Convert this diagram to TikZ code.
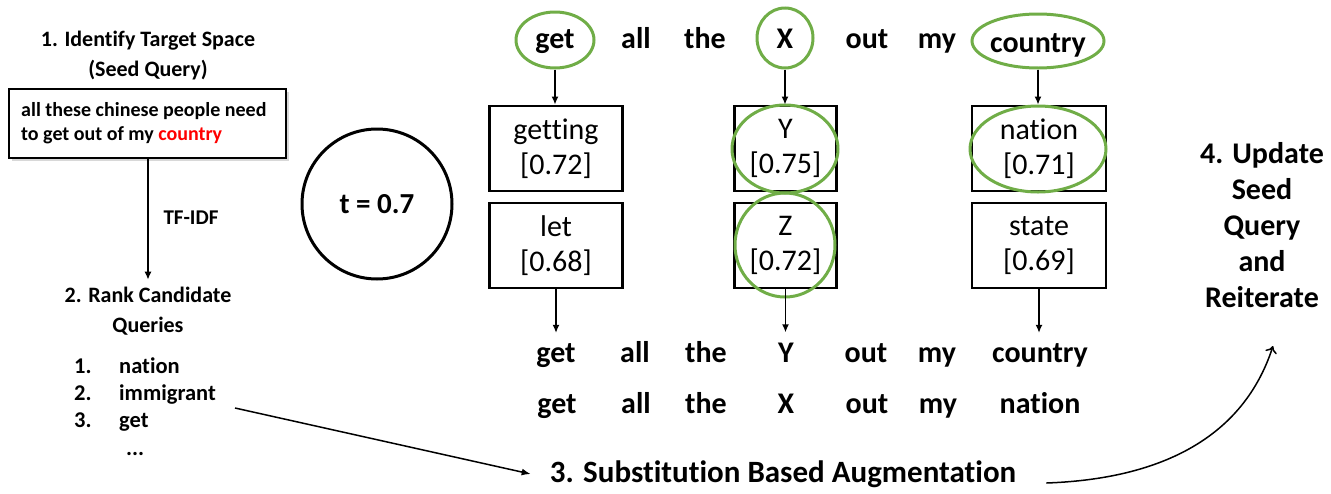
\documentclass[tikz,border=0pt]{standalone}
\usepackage{fontspec}
\setmainfont[Ligatures=NoCommon]{Carlito}
\usetikzlibrary{arrows.meta,shapes.geometric,shadows}
\definecolor{grn}{RGB}{112,173,71}
\definecolor{redtxt}{RGB}{255,0,0}
\tikzset{
  ttl/.style={font=\fontsize{22}{30}\selectfont\bfseries, align=center, inner sep=0},
  wrd/.style={font=\fontsize{30}{34}\selectfont\bfseries, inner sep=0, anchor=base},
  cand/.style={draw, line width=2.8, minimum width=133, minimum height=85, align=center, font=\fontsize{30}{35}\selectfont, inner sep=0},
  gell/.style={ellipse, draw=grn, line width=3, inner sep=0},
  arr/.style={line width=1.5, -{Latex[length=8,width=7]}},
  lst/.style={font=\fontsize{22.5}{26}\selectfont\bfseries, inner sep=0, anchor=base west},
}
\begin{document}
\begin{tikzpicture}[x=1pt,y=-1pt]
\useasboundingbox (0,0) rectangle (1331,493);
% left column
\node[ttl] (t1) at (148,56) {1. Identify Target Space\\(Seed Query)};
\node[draw, line width=1.2, minimum width=277, minimum height=69, inner sep=0, fill=white,
  drop shadow={shadow xshift=3pt, shadow yshift=-3pt, fill=gray!60}] (seed) at (147.5,123.5) {};
\node[font=\fontsize{20}{24}\selectfont\bfseries, align=left, anchor=west, inner sep=0] (seedtxt) at (21,123) {all these chinese people need\\to get out of my \textcolor{redtxt}{country}};
\node[ttl] (t2) at (148,311) {2. Rank Candidate\\Queries};
\draw[arr] (seed.south -| t2.north) -- ([yshift=7]t2.north);
\node[font=\fontsize{21}{24}\selectfont\bfseries, inner sep=0] (tfidf) at (191,218) {TF-IDF};
\node[lst] (n1) at (74,373) {1.};
\node[lst] (n2) at (74,400) {2.};
\node[lst] (n3) at (74,427) {3.};
\node[lst] (c1) at (119,373) {nation};
\node[lst] (c2) at (119,400) {immigrant};
\node[lst] (c3) at (119,427) {get};
\node[lst] (c4) at (126,455) {...};
% threshold
\node[circle, draw, line width=3, minimum size=150, font=\fontsize{29}{34}\selectfont\bfseries] (thr) at (377,204) {t = 0.7};
% top row
\node[wrd] (w1) at (555,48) {get};
\node[gell, minimum width=78, minimum height=56] (e1) at (555,40) {};
\node[wrd] (w2) at (636,48) {all};
\node[wrd] (w3) at (705,48) {the};
\node[wrd] (w4) at (785,48) {X};
\node[gell, minimum width=56, minimum height=60] (e4) at (785,38) {};
\node[wrd] (w5) at (867,48) {out};
\node[wrd] (w6) at (937,48) {my};
\node[wrd] (w7) at (1038,52) {country};
\node[gell, minimum width=132, minimum height=54] (e7) at (1038,41) {};
% candidate boxes
\node[cand] (b1) at (556,148.5) {getting\\{[0.72]}};
\node[cand, minimum width=102] (b2) at (785.5,148.5) {Y\\{[0.75]}};
\node[cand, minimum width=134] (b3) at (1039,148.5) {nation\\{[0.71]}};
\node[cand] (b4) at (556,245.5) {let\\{[0.68]}};
\node[cand, minimum width=102] (b5) at (785.5,245.5) {Z\\{[0.72]}};
\node[cand, minimum width=134] (b6) at (1039,245.5) {state\\{[0.69]}};
\node[gell, minimum width=106, minimum height=88] (g2) at (785,149) {};
\node[gell, minimum width=136, minimum height=86] (g3) at (1038,149) {};
\node[gell, minimum width=100, minimum height=104] (g5) at (785,245) {};
\draw[arr] (e1.south) -- (e1.south |- b1.north);
\draw[arr] (e4.south) -- (e4.south |- b2.north);
\draw[arr] (e7.south) -- (e7.south |- b3.north);
% result rows
\node[wrd] (r1) at (556,362) {get};
\node[wrd] (r2) at (635,362) {all};
\node[wrd] (r3) at (706,362) {the};
\node[wrd] (r4) at (786,362) {Y};
\node[wrd] (r5) at (866,362) {out};
\node[wrd] (r6) at (937,362) {my};
\node[wrd] (r7) at (1040,362) {country};
\node[wrd] (s1) at (557,413) {get};
\node[wrd] (s2) at (636,413) {all};
\node[wrd] (s3) at (706,413) {the};
\node[wrd] (s4) at (786,413) {X};
\node[wrd] (s5) at (867,413) {out};
\node[wrd] (s6) at (938,413) {my};
\node[wrd] (s7) at (1040,413) {nation};
\draw[arr] (b4.south) -- ([yshift=10]b4.south |- r1.north);
\draw[arr] (b5.south) -- ([yshift=10]b5.south |- r4.north);
\draw[arr] (b6.south) -- ([yshift=10]b6.south |- r7.north);
% augmentation
\node[font=\fontsize{31}{36}\selectfont\bfseries, inner sep=0] (aug) at (783,474) {3. Substitution Based Augmentation};
\draw[line width=1.5, -{Latex[length=9,width=7]}] ([xshift=19,yshift=-8]c2.base east) -- ([xshift=-19]aug.west);
\node[font=\fontsize{30}{36}\selectfont\bfseries, align=center, inner sep=0] (upd) at (1262,225) {4. Update\\Seed\\Query\\and\\Reiterate};
\coordinate (updend) at (1273,346);
\draw[line width=1.5, -{To[length=7,width=12]}] ([xshift=30,yshift=-9]aug.east) to[out=2,in=-108] (updend);
\end{tikzpicture}
\end{document}
